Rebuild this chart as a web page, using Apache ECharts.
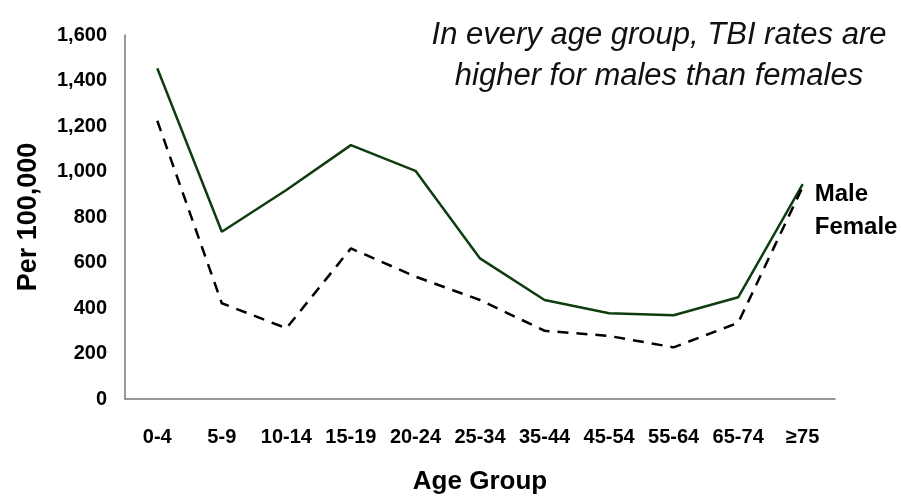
<!DOCTYPE html>
<html>
<head>
    <meta charset="utf-8">
    <title>TBI rates by age group and sex</title>
    <script src="https://cdn.jsdelivr.net/npm/echarts@6/dist/echarts.min.js"></script>
    <style>
        body { margin: 0; background: #fff; }
        #main { width: 901px; height: 497px; }
    </style>
</head>
<body>
    <div id="main"></div>
    <script type="text/javascript">
        var ageGroups = ['0-4', '5-9', '10-14', '15-19', '20-24', '25-34', '35-44', '45-54', '55-64', '65-74', '≥75'];
        var maleRates = [1454, 735, 919, 1116, 1003, 618, 435, 377, 368, 447, 945];
        var femaleRates = [1223, 421, 311, 662, 538, 435, 300, 277, 227, 335, 933];

        var font = 'Liberation Sans, Arial, sans-serif';
        var myChart = echarts.init(document.getElementById('main'));

        var option = {
            animation: false,
            textStyle: { fontFamily: font },
            title: {
                text: 'In every age group, TBI rates are\nhigher for males than females',
                left: 654,
                top: 10,
                textAlign: 'center',
                textStyle: {
                    fontFamily: font,
                    fontStyle: 'italic',
                    fontWeight: 'normal',
                    fontSize: 31,
                    lineHeight: 41,
                    color: '#111'
                }
            },
            grid: {
                left: 125,
                right: 66,
                top: 35,
                bottom: 98,
                outerBoundsMode: 'none'
            },
            xAxis: {
                type: 'category',
                data: ageGroups,
                boundaryGap: true,
                name: 'Age Group',
                nameLocation: 'middle',
                nameGap: 70,
                nameTextStyle: { fontFamily: font, fontWeight: 'bold', fontSize: 26, color: '#000' },
                axisLine: { lineStyle: { color: '#777', width: 1.5 } },
                axisTick: { show: false },
                axisLabel: { fontFamily: font, fontWeight: 'bold', fontSize: 20, color: '#000', margin: 28, interval: 0 }
            },
            yAxis: {
                type: 'value',
                min: 0,
                max: 1600,
                interval: 200,
                name: 'Per 100,000',
                nameLocation: 'middle',
                nameGap: 83,
                nameTextStyle: { fontFamily: font, fontWeight: 'bold', fontSize: 27, color: '#000' },
                axisLine: { show: true, lineStyle: { color: '#777', width: 1.5 } },
                axisTick: { show: false },
                splitLine: { show: false },
                axisLabel: {
                    fontFamily: font, fontWeight: 'bold', fontSize: 20, color: '#000', margin: 18,
                    formatter: function (v) { return v.toLocaleString('en-US'); }
                }
            },
            series: [{
                name: 'Male',
                type: 'line',
                data: maleRates,
                symbol: 'none',
                lineStyle: { color: '#0f3d0f', width: 2.5 },
                endLabel: {
                    show: true,
                    formatter: 'Male',
                    offset: [4, 10],
                    fontFamily: font, fontWeight: 'bold', fontSize: 24, color: '#000'
                }
            }, {
                name: 'Female',
                type: 'line',
                data: femaleRates,
                symbol: 'none',
                lineStyle: { color: '#000', width: 2.5, type: [11, 8] },
                endLabel: {
                    show: true,
                    formatter: 'Female',
                    offset: [4, 41],
                    fontFamily: font, fontWeight: 'bold', fontSize: 24, color: '#000'
                }
            }]
        };

        myChart.setOption(option);
    </script>
</body>
</html>
